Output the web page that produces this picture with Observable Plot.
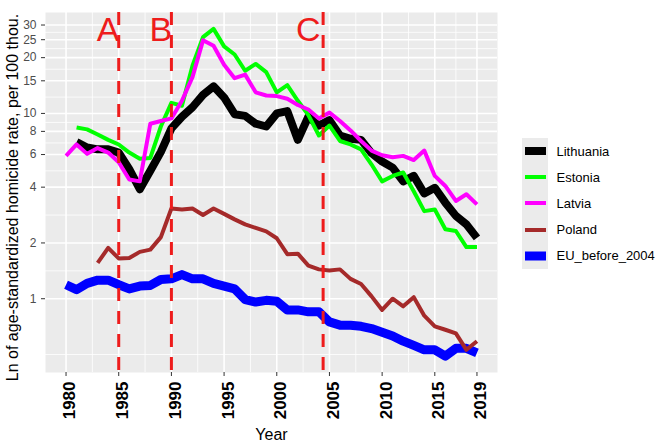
<!DOCTYPE html>
<html>
<head>
<meta charset="utf-8">
<script src="https://cdn.jsdelivr.net/npm/d3@7"></script>
<script src="https://cdn.jsdelivr.net/npm/@observablehq/plot@0.6"></script>
<style>
  body { margin: 0; background: #fff; font-family: "Liberation Sans", Arial, sans-serif; }
  #wrap { position: relative; width: 660px; height: 444px; }
  #legend { position: absolute; left: 522px; top: 138px; }
  .row { display: flex; align-items: center; height: 26.2px; }
  .key { width: 26px; height: 26.2px; background: #EBEBEB; position: relative; }
  .key span { position: absolute; left: 2.5px; right: 2.5px; top: 50%; transform: translateY(-50%); }
  .lab { margin-left: 8.5px; font-size: 13px; color: #000; }
</style>
</head>
<body>
<div id="wrap"><div id="chart"></div><div id="legend"></div></div>
<script>
// Age-standardized homicide rate per 100 000, by year
const years = [1980, 1981, 1982, 1983, 1984, 1985, 1986, 1987, 1988, 1989,
               1990, 1991, 1992, 1993, 1994, 1995, 1996, 1997, 1998, 1999,
               2000, 2001, 2002, 2003, 2004, 2005, 2006, 2007, 2008, 2009,
               2010, 2011, 2012, 2013, 2014, 2015, 2016, 2017, 2018, 2019];

const lithuania = [null, 7.0, 6.55, 6.4, 6.4, 6.15, 5.0, 3.9, 4.9, 6.2,
                   8.3, 9.6, 10.8, 12.6, 14.0, 12.2, 9.9, 9.7, 8.8, 8.5,
                   10.0, 10.3, 7.2, 9.6, 8.6, 9.2, 7.6, 7.3, 7.2, 6.1,
                   5.5, 5.1, 4.3, 4.6, 3.7, 3.97, 3.3, 2.8, 2.52, 2.13];

const estonia = [null, 8.4, 8.2, 7.7, 7.2, 6.8, 6.15, 5.7, 5.75, 8.5,
                 11.4, 11.0, 18.1, 25.8, 28.6, 23.0, 20.8, 17.0, 18.5, 16.7,
                 13.0, 14.2, 11.7, 9.8, 7.6, 8.6, 7.1, 6.8, 6.4, 5.3,
                 4.3, 4.6, 4.8, 3.8, 2.97, 3.03, 2.37, 2.32, 1.9, 1.9];

const latvia = [5.9, 6.8, 6.05, 6.5, 6.15, 5.45, 4.4, 4.3, 8.8, 9.1,
                9.4, 11.7, 15.7, 24.8, 23.2, 18.3, 15.5, 16.2, 13.0, 12.5,
                12.4, 12.0, 11.1, 10.5, 9.4, 10.1, 9.1, 8.1, 7.1, 6.3,
                5.95, 5.8, 5.9, 5.6, 6.3, 4.6, 4.06, 3.37, 3.66, 3.23];

const poland = [null, null, null, 1.56, 1.88, 1.65, 1.66, 1.79, 1.84, 2.15,
                3.07, 3.03, 3.07, 2.83, 3.07, 2.87, 2.68, 2.52, 2.41, 2.31,
                2.12, 1.74, 1.75, 1.51, 1.44, 1.42, 1.44, 1.28, 1.2, 1.03,
                0.87, 1.0, 0.91, 1.02, 0.81, 0.71, 0.68, 0.65, 0.53, 0.59];

const euBefore2004 = [1.19, 1.12, 1.21, 1.26, 1.26, 1.19, 1.13, 1.17, 1.18, 1.27,
                      1.28, 1.35, 1.28, 1.28, 1.21, 1.17, 1.13, 0.99, 0.96, 0.98,
                      0.97, 0.87, 0.87, 0.85, 0.85, 0.75, 0.72, 0.72, 0.71, 0.69,
                      0.66, 0.63, 0.59, 0.56, 0.53, 0.53, 0.49, 0.54, 0.54, 0.51];

// Series: name, values, colour, line width (legend order)
const seriesNames  = ["Lithuania", "Estonia", "Latvia", "Poland", "EU_before_2004"];
const seriesValues = [lithuania, estonia, latvia, poland, euBefore2004];
const seriesColors = ["#000000", "#00FF00", "#FF00FF", "#A52A2A", "#0000FF"];
const seriesWidths = [8, 4, 4, 4, 9];
const drawOrder    = ["EU_before_2004", "Lithuania", "Estonia", "Latvia", "Poland"];

// Event markers
const eventYears   = [1985, 1990, 2004.4];
const eventLetters = ["A", "B", "C"];
const letterYears  = [1984, 1989, 2003];
const letterLevel  = 28;

// Axis ticks
const xBreaks = [1980, 1985, 1990, 1995, 2000, 2005, 2010, 2015, 2019];
const xMinor  = [1982.5, 1987.5, 1992.5, 1997.5, 2002.5, 2007.5, 2012.5, 2017];
const yBreaks = [1, 2, 4, 6, 8, 10, 15, 20, 25, 30];
const yMinor  = [0.5, 1.414, 2.828, 4.899, 6.928, 8.944, 12.25, 17.32, 22.36, 27.39];

const yTitle = "Ln of age-standardized homicide rate, per 100 thou.";

// long table
const rows = [];
seriesNames.forEach((name, s) => {
  seriesValues[s].forEach((v, i) => rows.push({series: name, year: years[i], value: v}));
});

// ggplot-like 5% expansion (log space for y)
const xExt = d3.extent(years);
const xPad = (xExt[1] - xExt[0]) * 0.05;
const xLow = xExt[0] - xPad;
const vals = rows.map(d => d.value).filter(v => v != null);
const lo = Math.log10(d3.min(vals)), hi = Math.log10(d3.max(vals));
const yPad = (hi - lo) * 0.05;

const lineMarks = drawOrder.map(name => {
  const s = seriesNames.indexOf(name);
  return Plot.line(rows.filter(d => d.series === name), {
    x: "year", y: "value",
    stroke: seriesColors[s], strokeWidth: seriesWidths[s],
    strokeLinecap: "butt", strokeLinejoin: "round"
  });
});

const chart = Plot.plot({
  width: 660,
  height: 444,
  marginLeft: 45,
  marginRight: 163,
  marginTop: 12,
  marginBottom: 72,
  style: {fontFamily: "'Liberation Sans', Arial, sans-serif", background: "transparent", overflow: "visible"},
  x: {domain: [xLow, xExt[1] + xPad]},
  y: {type: "log", domain: [10 ** (lo - yPad), 10 ** (hi + yPad)], axis: null},
  marks: [
    Plot.frame({fill: "#EBEBEB", stroke: "none"}),
    Plot.ruleY(yMinor, {stroke: "#fff", strokeWidth: 0.8}),
    Plot.ruleX(xMinor, {stroke: "#fff", strokeWidth: 0.8}),
    Plot.ruleY(yBreaks, {stroke: "#fff", strokeWidth: 1.6}),
    Plot.ruleX(xBreaks, {stroke: "#fff", strokeWidth: 1.6}),
    ...lineMarks,
    Plot.ruleX(eventYears, {stroke: "#EE1C1C", strokeWidth: 3, strokeDasharray: "13,10"}),
    Plot.text(eventLetters, {x: (d, i) => letterYears[i], y: () => letterLevel, text: d => d,
      fill: "#EE1C1C", fontSize: 34}),
    // y ticks and labels
    Plot.ruleY(yBreaks, {x1: xLow, x2: xLow, insetLeft: -4, stroke: "#333", strokeWidth: 1}),
    Plot.text(yBreaks, {y: d => d, frameAnchor: "left", textAnchor: "end", lineAnchor: "middle",
      dx: -9, fontSize: 12, fill: "#4D4D4D", text: d => String(d)}),
    // x ticks and labels
    Plot.axisX(xBreaks, {tickSize: 4, stroke: "#333", label: null, tickFormat: () => ""}),
    Plot.text(xBreaks, {x: d => d, frameAnchor: "bottom", rotate: -90, textAnchor: "end",
      lineAnchor: "middle", dy: 9, dx: 4, fontSize: 17, fontWeight: "bold", fill: "#000",
      text: d => String(d)}),
    Plot.text(["Year"], {frameAnchor: "bottom", lineAnchor: "middle", dy: 62, fontSize: 16,
      fill: "#000", text: d => d}),
    Plot.text([yTitle], {frameAnchor: "left", rotate: -90, textAnchor: "middle", lineAnchor: "middle",
      dx: -33, dy: 5, fontSize: 16, fill: "#000", text: d => d})
  ]
});
document.getElementById("chart").appendChild(chart);

// legend
const legend = document.getElementById("legend");
seriesNames.forEach((name, s) => {
  const row = document.createElement("div");
  row.className = "row";
  row.innerHTML = `<div class="key"><span style="height:${seriesWidths[s]}px;background:${seriesColors[s]}"></span></div><div class="lab">${name}</div>`;
  legend.appendChild(row);
});
</script>
</body>
</html>
